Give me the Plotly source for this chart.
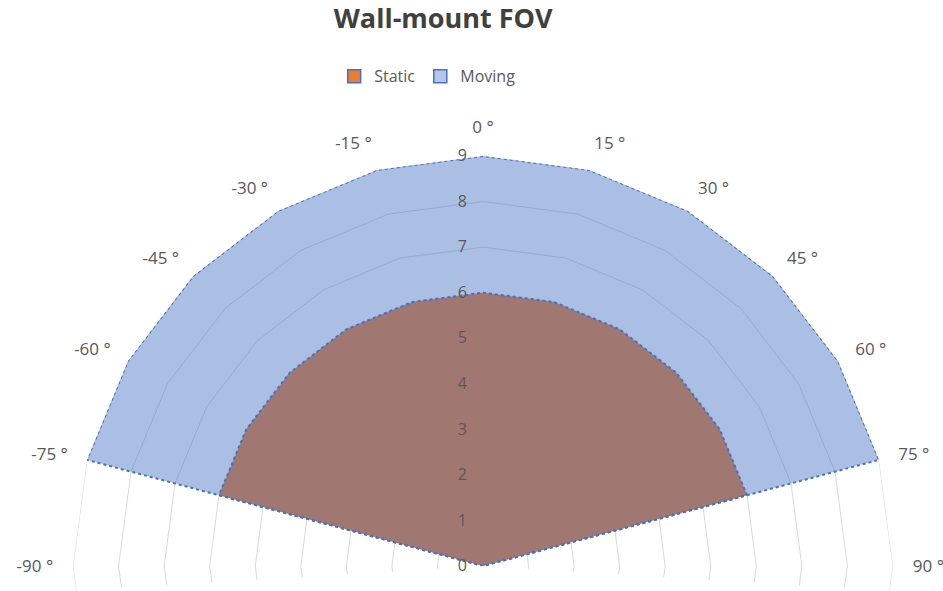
import plotly.graph_objects as go

# ---- data ----
angle_labels = ["-90 °", "-75 °", "-60 °", "-45 °", "-30 °", "-15 °", "0 °",
                "15 °", "30 °", "45 °", "60 °", "75 °", "90 °"]
static_vals = [0, 6, 6, 6, 6, 6, 6, 6, 6, 6, 6, 6, 0]
moving_vals = [0, 9, 9, 9, 9, 9, 9, 9, 9, 9, 9, 9, 0]
hidden_labels = [" " * (i + 1) for i in range(11)]  # 105° .. 255° (not labelled)
radial_ticks = list(range(0, 10))

# category order: start at top (0 °), clockwise round the full circle
category_order = angle_labels[6:] + hidden_labels + angle_labels[:6]

BLUE = "#4472C4"
ORANGE = "#ED7D31"
GRID = "#d9d9d9"

fig = go.Figure()

# polygonal grid rings (Excel radar style), drawn all the way round
ring_theta = category_order + [category_order[0]]
for k in radial_ticks[1:]:
    fig.add_trace(go.Scatterpolar(
        r=[k] * len(ring_theta), theta=ring_theta, mode="lines",
        line=dict(color=GRID, width=1), showlegend=False,
        hoverinfo="skip", cliponaxis=False,
    ))

fig.add_trace(go.Scatterpolar(
    r=static_vals, theta=angle_labels, name="Static", mode="lines",
    fill="toself", fillcolor=ORANGE, showlegend=False,
    line=dict(color=BLUE, width=2, dash="dot"),
))
fig.add_trace(go.Scatterpolar(
    r=moving_vals, theta=angle_labels, name="Moving", mode="lines",
    fill="toself", fillcolor="rgba(68,114,196,0.45)", showlegend=False,
    line=dict(color=BLUE, width=2, dash="dot"),
))

# legend entries (square swatches like the original)
fig.add_trace(go.Scatterpolar(
    r=[None], theta=[angle_labels[6]], name="Static", mode="markers",
    marker=dict(symbol="square", size=13, color=ORANGE,
                line=dict(color=BLUE, width=1.5)),
))
fig.add_trace(go.Scatterpolar(
    r=[None], theta=[angle_labels[6]], name="Moving", mode="markers",
    marker=dict(symbol="square", size=13, color="#B4C7E7",
                line=dict(color=BLUE, width=1.5)),
))

fig.update_layout(
    width=943, height=591,
    margin=dict(l=0, r=0, t=0, b=0),
    paper_bgcolor="white", plot_bgcolor="white",
    font=dict(family="Open Sans, Noto Sans, sans-serif", color="#595959"),
    title=dict(text="<b>Wall-mount FOV</b>", x=0.47, xanchor="center",
               y=0.968, yanchor="middle",
               font=dict(size=27, color="#404040")),
    legend=dict(orientation="h", x=0.453, xanchor="center", y=0.871, yanchor="middle",
                font=dict(size=16, color="#595959"), itemwidth=30,
                bgcolor="rgba(0,0,0,0)"),
    polar=dict(
        domain=dict(x=[0.0774, 0.947], y=[0.0, 0.736]),
        sector=[-3.5, 183.5],
        gridshape="linear",
        bgcolor="rgba(0,0,0,0)",
        angularaxis=dict(
            type="category", categoryorder="array", categoryarray=category_order,
            period=24, direction="clockwise", rotation=90,
            showgrid=False, showline=False,
            ticks="outside", ticklen=16, tickcolor="rgba(0,0,0,0)",
            tickfont=dict(size=17, color="#595959"),
        ),
        radialaxis=dict(
            range=[0, 9], tickvals=radial_ticks, angle=90,
            side="counterclockwise",
            showline=False, showgrid=False,
            ticks="outside", ticklen=10, tickcolor="rgba(0,0,0,0)",
            tickfont=dict(size=16, color="#595959"),
            tickangle=90,
        ),
    ),
)

fig.write_html("out.html")
